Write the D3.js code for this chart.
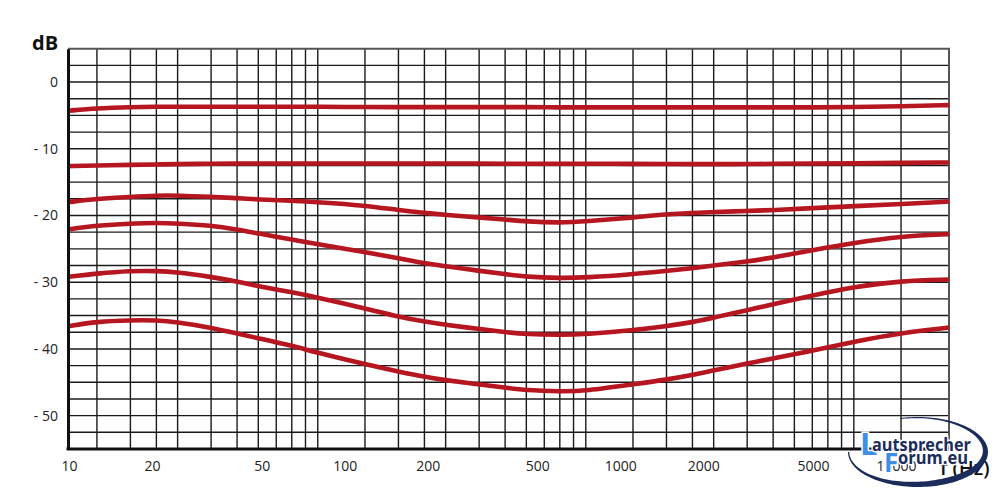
<!DOCTYPE html>
<html>
<head>
<meta charset="utf-8">
<script src="https://cdn.jsdelivr.net/npm/d3@7"></script>
<style>
  body { margin: 0; background: #fff; }
  svg text { font-family: "Open Sans", sans-serif; }
</style>
</head>
<body>
<div class="canvas"></div>
<script>
// frequencies (Hz) the curves were read at
const freqs = [11.7, 15, 20, 25, 30, 40, 50, 60, 80, 100, 150, 200, 250, 300, 400, 500, 600, 800,
               1000, 1500, 2000, 2500, 3000, 4000, 5000, 7000, 10000, 15000, 22650];

// level of each curve in dB, top to bottom
const curve1 = [-4.3, -3.95, -3.75, -3.7, -3.7, -3.7, -3.7, -3.7, -3.7, -3.7, -3.75, -3.75, -3.75, -3.75, -3.75,
                -3.75, -3.75, -3.8, -3.8, -3.8, -3.8, -3.8, -3.8, -3.8, -3.8, -3.8, -3.75, -3.65, -3.45];
const curve2 = [-12.6, -12.5, -12.4, -12.35, -12.3, -12.25, -12.2, -12.2, -12.2, -12.2, -12.2, -12.2, -12.2, -12.2, -12.2,
                -12.25, -12.25, -12.25, -12.25, -12.25, -12.3, -12.3, -12.3, -12.3, -12.25, -12.2, -12.2, -12.1, -12.05];
const curve3 = [-18.0, -17.5, -17.2, -17.0, -17.0, -17.2, -17.4, -17.6, -17.8, -18.0, -18.5, -19.2, -19.6, -19.9, -20.3,
                -20.6, -20.9, -21.1, -20.9, -20.3, -19.8, -19.6, -19.5, -19.3, -19.2, -18.9, -18.6, -18.3, -17.9];
const curve4 = [-22.1, -21.5, -21.2, -21.1, -21.2, -21.5, -22.1, -22.7, -23.6, -24.3, -25.5, -26.4, -27.2, -27.6, -28.3,
                -28.8, -29.2, -29.4, -29.3, -28.8, -28.3, -27.9, -27.5, -26.9, -26.3, -25.2, -24.1, -23.1, -22.8];
const curve5 = [-29.2, -28.7, -28.3, -28.3, -28.5, -29.2, -29.9, -30.6, -31.5, -32.3, -33.9, -35.2, -35.9, -36.4, -37.0,
                -37.5, -37.8, -37.9, -37.8, -37.2, -36.6, -36.0, -35.3, -34.2, -33.3, -32.0, -30.7, -29.8, -29.6];
const curve6 = [-36.6, -35.9, -35.7, -35.7, -36.0, -36.8, -37.7, -38.4, -39.5, -40.6, -42.3, -43.4, -44.2, -44.7, -45.3,
                -45.8, -46.2, -46.4, -46.3, -45.3, -44.6, -43.9, -43.2, -42.2, -41.4, -40.3, -38.9, -37.6, -36.8];

// vertical grid lines (Hz)
const gridFreqs = [15, 20, 25, 30, 40, 50, 60, 70, 80, 90, 100, 150, 200, 250, 300, 400, 500, 600, 700, 800, 900,
                   1000, 1500, 2000, 2500, 3000, 4000, 5000, 6000, 7000, 8000, 9000, 10000, 15000];

// tick labels
const xLabels = [10, 20, 50, 100, 200, 500, 1000, 2000, 5000, 10000];
const yLabels = [0, -10, -20, -30, -40, -50];

const curves = [curve1, curve2, curve3, curve4, curve5, curve6];

const svg = d3.select(".canvas").append("svg")
    .attr("width", 1000)
    .attr("height", 500);

//margins and dimensions
const margin = {top: 48.7, right: 51, bottom: 51, left: 68};
const graphWidth = 1000 - margin.left - margin.right;
const graphHeight = 500 - margin.top - margin.bottom;

const graph = svg.append("g")
    .attr("transform", `translate(${margin.left}, ${margin.top})`);

//scales
const x = d3.scaleLog()
    .domain([11.7, 22650])
    .range([0, graphWidth]);

// the printed frequency labels sit on their own, slightly different log spacing
const xLabel = d3.scaleLog()
    .domain([10, 10000])
    .range([1, 828]);

const y = d3.scaleLinear()
    .domain([-55, 5])
    .range([graphHeight, 0]);

//grid
graph.selectAll(".hgrid")
  .data(d3.range(-52.5, 5, 2.5))
  .join("line")
    .attr("class", "hgrid")
    .attr("x1", 0)
    .attr("x2", graphWidth)
    .attr("y1", d => y(d))
    .attr("y2", d => y(d))
    .attr("stroke", "#1a1a1a")
    .attr("stroke-width", 1.4);

graph.selectAll(".vgrid")
  .data(gridFreqs)
  .join("line")
    .attr("class", "vgrid")
    .attr("x1", d => x(d))
    .attr("x2", d => x(d))
    .attr("y1", 0)
    .attr("y2", graphHeight)
    .attr("stroke", "#1a1a1a")
    .attr("stroke-width", 1.4);

//top and right border
graph.append("path")
    .attr("d", `M0,0H${graphWidth}V${graphHeight}`)
    .attr("fill", "none")
    .attr("stroke", "#555")
    .attr("stroke-width", 2);

//curves
const line = d3.line()
    .x((d, i) => x(freqs[i]))
    .y(d => y(d))
    .curve(d3.curveBasis);

graph.selectAll(".curve")
  .data(curves)
  .join("path")
    .attr("class", "curve")
    .attr("d", line)
    .attr("fill", "none")
    .attr("stroke", "#b5161f")
    .attr("stroke-width", 4.6);

//axes
const yAxis = d3.axisLeft(y)
    .tickValues(yLabels)
    .tickFormat(d => d < 0 ? "- " + (-d) : d)
    .tickSize(0)
    .tickSizeOuter(0)
    .tickPadding(10);

const yAxisGroup = graph.append("g").call(yAxis);
yAxisGroup.select(".domain").attr("stroke", "#111").attr("stroke-width", 3);
yAxisGroup.selectAll("text")
    .attr("font-family", "Open Sans")
    .attr("font-size", 14)
    .attr("fill", "#222");

const xAxis = d3.axisBottom(xLabel)
    .tickValues(xLabels)
    .tickFormat(d3.format("d"))
    .tickSize(0)
    .tickPadding(12);

const xAxisGroup = graph.append("g")
    .attr("transform", `translate(0, ${graphHeight})`)
    .call(xAxis);
xAxisGroup.select(".domain").remove();
xAxisGroup.selectAll("text")
    .attr("font-family", "Open Sans")
    .attr("font-size", 14)
    .attr("fill", "#222");

graph.append("line")
    .attr("x1", -1.5)
    .attr("x2", graphWidth)
    .attr("y1", graphHeight)
    .attr("y2", graphHeight)
    .attr("stroke", "#111")
    .attr("stroke-width", 3);

//axis titles
svg.append("text")
    .attr("x", 32)
    .attr("y", 50)
    .attr("font-size", 20)
    .attr("font-weight", "bold")
    .attr("fill", "#111")
    .text("dB");

svg.append("text")
    .attr("x", 940)
    .attr("y", 475)
    .attr("font-size", 20)
    .attr("font-weight", 600)
    .attr("fill", "#111")
    .text("f (Hz)");

//watermark logo
const logo = svg.append("g");
const navy = "#1b2c5c", lightBlue = "#3d8ee6";

const cx = 918, cy = 452, rx = 70, ry = 35;
const angles = d3.range(0, 1.0001, 1 / 120).map(k => Math.PI - k * (Math.PI + 1.833));
const thick = t => 0.9 + 5.5 * Math.pow((1 + Math.cos(t - 0.8)) / 2, 1.5);
const outer = angles.map(t => [cx + rx * Math.cos(t), cy + ry * Math.sin(t)]);
const inner = angles.map(t => [cx + (rx - thick(t)) * Math.cos(t), cy + (ry - thick(t)) * Math.sin(t)]).reverse();

logo.append("path")
    .attr("d", d3.line()(outer.concat(inner)) + "Z")
    .attr("fill", navy);

const halo = sel => sel
    .attr("stroke", "#fff")
    .attr("stroke-width", 3)
    .attr("paint-order", "stroke")
    .attr("font-weight", "bold");

logo.append("text")
    .attr("x", 860).attr("y", 455)
    .attr("font-size", 31)
    .attr("fill", lightBlue)
    .call(halo)
    .text("L");

logo.append("text")
    .attr("x", 872).attr("y", 451)
    .attr("font-size", 18)
    .attr("textLength", 99)
    .attr("lengthAdjust", "spacingAndGlyphs")
    .attr("fill", navy)
    .call(halo)
    .text("autsprecher");

logo.append("text")
    .attr("x", 884).attr("y", 472)
    .attr("font-size", 26)
    .attr("fill", lightBlue)
    .call(halo)
    .text("F");

logo.append("text")
    .attr("x", 898).attr("y", 464)
    .attr("font-size", 18)
    .attr("textLength", 70)
    .attr("lengthAdjust", "spacingAndGlyphs")
    .attr("fill", navy)
    .call(halo)
    .text("orum.eu");
</script>
</body>
</html>
